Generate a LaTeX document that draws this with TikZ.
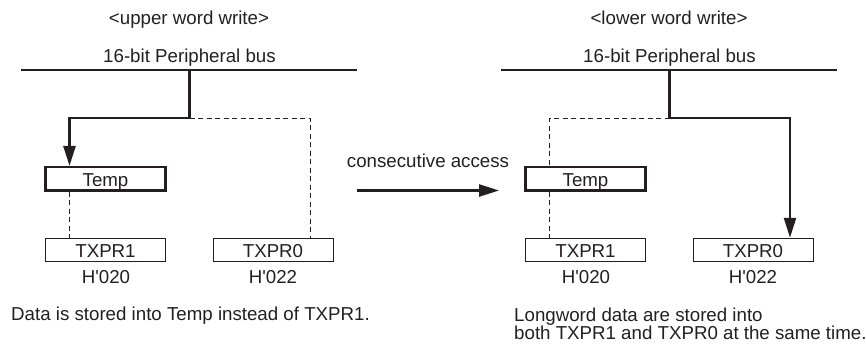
\documentclass[tikz,border=0pt]{standalone}
\usepackage{fontspec}
\setmainfont{Liberation Sans}
\usetikzlibrary{arrows.meta}
\definecolor{ink}{HTML}{231F20}

\begin{document}
\begin{tikzpicture}[
    x=1pt,
    y=-1pt,
    every node/.style={font=\fontsize{18.7}{18}\selectfont, text=ink},
    bus/.style={draw=ink, line width=2.4pt},
    feed/.style={draw=ink, line width=2.4pt},
    feedarrow/.style={feed, -{Triangle[length=20pt, width=12pt]}},
    idle/.style={draw=ink, line width=1pt, dash pattern=on 5pt off 3.5pt},
    reg/.style={draw=ink, line width=1pt, minimum width=120pt, minimum height=23.5pt,
      inner sep=0pt, text height=15pt, text depth=0pt},
    tempreg/.style={reg, line width=2.2pt},
    label/.style={anchor=base},
    caption/.style={anchor=base west, inner sep=0pt}
  ]
    \useasboundingbox (0,0) rectangle (866,346);

    % two panels: upper word write and lower word write
    \foreach \o/\s/\t in {0/l/upper, 480/r/lower} {
      \node[label] (title\s) at (\o+189,24) {<\t\ word write>};
      \node[label] (busname\s) at (\o+189.5,62.5) {16-bit Peripheral bus};
      \coordinate (busW\s) at (\o+21,70);
      \coordinate (busE\s) at (\o+357,70);
      \draw[bus] (busW\s) -- (busE\s);

      \coordinate (tap\s) at (\o+189.5,70);
      \coordinate (split\s) at (\o+189.5,118);
      \coordinate (dropA\s) at (\o+69.5,118);
      \coordinate (dropB\s) at (\o+310,118);

      \node[tempreg] (temp\s) at (\o+105.5,178.8) {Temp};
      \node[reg] (txprA\s) at (\o+105.5,250) {TXPR1};
      \node[reg] (txprB\s) at (\o+273,250) {TXPR0};
      \node[label] (addrA\s) at (\o+106,283.3) {H\textquotesingle 020};
      \node[label] (addrB\s) at (\o+273,283.3) {H\textquotesingle 022};

      \draw[feed] (tap\s) -- (split\s);
      \draw[idle] (dropA\s |- temp\s.south) -- (dropA\s |- txprA\s.north);
    }

    % upper word goes to Temp
    \draw[feedarrow] (splitl) -- (dropAl) -- (dropAl |- templ.north);
    \draw[idle] (splitl) -- (dropBl) -- (dropBl |- txprBl.north);

    % lower word goes to TXPR0
    \draw[idle] (splitr) -- (dropAr) -- (dropAr |- tempr.north);
    \draw[feedarrow] (splitr) -- (dropBr) -- (dropBr |- txprBr.north);

    \node[label] (access) at (428,167) {consecutive access};
    \coordinate (accW) at (357,190.5);
    \coordinate (accE) at (499,190.5);
    \draw[feedarrow] (accW) -- (accE);

    \node[caption] (notel) at (11,320.7) {Data is stored into Temp instead of TXPR1.};
    \node[caption] (noter) at (514,321.5) {Longword data are stored into};
    \node[caption] (noterb) at (514,339.5) {both TXPR1 and TXPR0 at the same time.};
  \end{tikzpicture}
\end{document}
